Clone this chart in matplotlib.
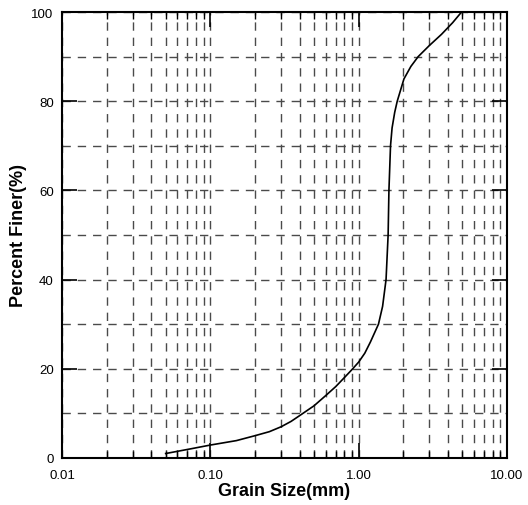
import numpy as np
import matplotlib
matplotlib.use("Agg")
import matplotlib.pyplot as plt
from matplotlib.ticker import FixedLocator, LogLocator, MultipleLocator, NullFormatter

plt.rcParams["font.family"] = ["Liberation Sans", "DejaVu Sans"]
plt.rcParams["lines.scale_dashes"] = False

# ── Data ───────────────────────────────────────────────────────────────────
grain_size = [0.05, 0.075, 0.10, 0.15, 0.20, 0.25, 0.30, 0.35, 0.40, 0.50,
              0.60, 0.70, 0.80, 0.90, 1.00, 1.10, 1.20, 1.36, 1.45, 1.53,
              1.58, 1.60, 1.64, 1.68, 1.75, 1.82, 2.02, 2.25, 2.52, 3.00,
              3.62, 4.30, 4.94]
percent_finer = [1.0, 2.1, 2.9, 3.9, 5.0, 5.9, 7.0, 8.2, 9.5, 11.7,
                 14.0, 16.0, 18.0, 19.8, 21.5, 23.5, 26.0, 30.0, 34.0, 40.0,
                 50.0, 60.0, 70.0, 74.0, 77.5, 80.0, 85.0, 87.8, 90.0, 92.5,
                 95.0, 97.6, 100.0]

x_major = [0.01, 0.1, 1.0, 10.0]
x_major_labels = ["0.01", "0.10", "1.00", "10.00"]
y_major = [0, 20, 40, 60, 80, 100]

# ── Plot ───────────────────────────────────────────────────────────────────
fig = plt.figure(figsize=(5.28, 5.06), dpi=100)
ax = fig.add_axes([0.1174, 0.0929, 0.8428, 0.8814])

grid_kw = dict(color="#4a4a4a", linewidth=1.0, linestyle=(0, (6, 5)))
ax.grid(True, axis="x", which="both", **grid_kw)
ax.grid(True, axis="y", which="both", **grid_kw)

ax.plot(grain_size, percent_finer, color="black", linewidth=1.2, zorder=3)

ax.set_xscale("log")
ax.set_xlim(0.01, 10)
ax.set_ylim(0, 100)

ax.xaxis.set_major_locator(FixedLocator(x_major))
ax.set_xticklabels(x_major_labels)
ax.xaxis.set_minor_locator(LogLocator(base=10, subs=np.arange(2, 10)))
ax.xaxis.set_minor_formatter(NullFormatter())
ax.set_yticks(y_major)
ax.yaxis.set_minor_locator(MultipleLocator(10))

ax.tick_params(axis="both", which="major", direction="in", length=10.5,
               width=1.2, labelsize=9.5, top=True, right=True)
ax.tick_params(axis="x", which="major", pad=8)
ax.tick_params(axis="y", which="major", pad=6)
ax.tick_params(axis="x", which="minor", direction="in", length=5,
               width=1.0, top=True)
ax.tick_params(axis="y", which="minor", length=0)

for s in ax.spines.values():
    s.set_linewidth(1.5)

ax.set_xlabel("Grain Size(mm)", fontsize=13, fontweight="bold", labelpad=1)
ax.set_ylabel("Percent Finer(%)", fontsize=13, fontweight="bold", labelpad=3)

fig.savefig("out.png", dpi=100)
